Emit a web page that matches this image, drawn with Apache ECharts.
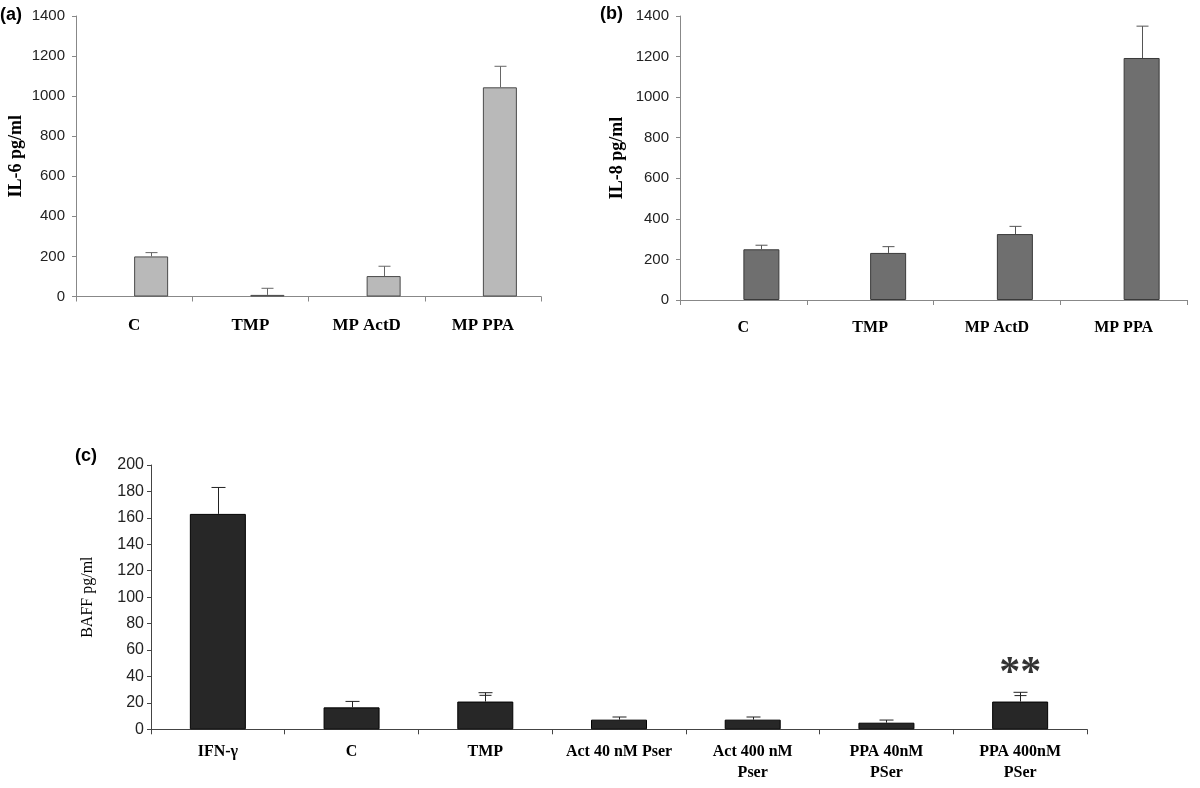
<!DOCTYPE html>
<html>
<head>
<meta charset="utf-8">
<script src="https://cdn.jsdelivr.net/npm/echarts@6/dist/echarts.min.js"></script>
<style>html,body{margin:0;padding:0;background:#fff}#chart{width:1200px;height:788px}</style>
</head>
<body>
<div id="chart"></div>
<script>
// ---- data ----
const catsAB = ['C', 'TMP', 'MP ActD', 'MP PPA'];
const il6 = [200, 8, 102, 1044];
const il6Err = [19, 33, 49, 105];
const il8 = [250, 232, 325, 1193];
const il8Err = [20, 31, 38, 157];
const catsC = ['IFN-γ', 'C', 'TMP', 'Act 40 nM Pser', 'Act 400 nM\nPser', 'PPA 40nM\nPSer', 'PPA 400nM\nPSer'];
const baff = [163, 16.6, 21, 7.3, 7.3, 5, 21];
const baffErr = [20, 4.5, 6.7, 2, 2, 2, 7];
const baffErrInner = [null, null, 4.7, null, null, null, 4.5];
const yMaxAB = 1400, yStepAB = 200;
const yMaxC = 200, yStepC = 20;
const sigIndex = 6, sigLabel = '**', sigValue = 42;

// ---- helpers ----
function errData(vals, errs, inner) {
  return vals.map((v, i) => [i, v, v + errs[i], inner && inner[i] != null ? v + inner[i] : NaN]);
}
function errRender(offset, cap, color) {
  return function (params, api) {
    const i = api.value(0), v = api.value(1), t = api.value(2), t2 = api.value(3);
    const p0 = api.coord([i, v]), p1 = api.coord([i, t]);
    const x = Math.round(p0[0] + offset) + 0.5;
    const ch = [
      {type: 'line', shape: {x1: x, y1: p0[1], x2: x, y2: p1[1]}, style: {stroke: color, lineWidth: 1}},
      {type: 'line', shape: {x1: x - cap, y1: p1[1], x2: x + cap, y2: p1[1]}, style: {stroke: color, lineWidth: 1}}
    ];
    if (!isNaN(t2)) {
      const p2 = api.coord([i, t2]);
      ch.push({type: 'line', shape: {x1: x - cap + 1, y1: p2[1], x2: x + cap - 1, y2: p2[1]}, style: {stroke: color, lineWidth: 1}});
    }
    return {type: 'group', children: ch};
  };
}
const sans = 'Liberation Sans';
const serif = 'Liberation Serif';
function xAxis(idx, cats, color, fs, margin) {
  return {
    type: 'category', gridIndex: idx, data: cats,
    axisLine: {lineStyle: {color: color, width: 1}},
    axisTick: {show: true, length: 5, lineStyle: {color: color}},
    axisLabel: {color: '#000', fontFamily: serif, fontWeight: 'bold', fontSize: fs, margin: margin, lineHeight: 21, interval: 0}
  };
}
function yAxis(idx, max, step, name, color, nameGap, nameBold, nameSize, labelSize, labelMargin) {
  return {
    type: 'value', gridIndex: idx, min: 0, max: max, interval: step,
    name: name, nameLocation: 'middle', nameGap: nameGap, nameRotate: 90,
    nameTextStyle: {color: '#000', fontFamily: serif, fontWeight: nameBold ? 'bold' : 'normal', fontSize: nameSize},
    axisLine: {show: true, lineStyle: {color: color, width: 1}},
    axisTick: {show: true, length: 4, lineStyle: {color: color}},
    splitLine: {show: false},
    axisLabel: {color: '#222', fontFamily: sans, fontSize: labelSize, margin: labelMargin, formatter: v => String(v)}
  };
}

const chart = echarts.init(document.getElementById('chart'), null, {renderer: 'canvas'});
chart.setOption({
  animation: false,
  backgroundColor: '#fff',
  grid: [
    {left: 76, top: 16, width: 465, height: 280.5},
    {left: 680, top: 16, width: 507, height: 284},
    {left: 151, top: 465, width: 936, height: 264.3}
  ],
  xAxis: [
    xAxis(0, catsAB, '#888', 17, 19),
    xAxis(1, catsAB, '#888', 16, 17),
    xAxis(2, catsC, '#444', 16, 12)
  ],
  yAxis: [
    yAxis(0, yMaxAB, yStepAB, 'IL-6 pg/ml', '#888', 51, true, 18, 15, 11),
    yAxis(1, yMaxAB, yStepAB, 'IL-8 pg/ml', '#888', 54, true, 18, 15, 11),
    yAxis(2, yMaxC, yStepC, 'BAFF pg/ml', '#444', 55, false, 16, 16, 7)
  ],
  graphic: [
    {type: 'text', left: 0, top: 6, style: {text: '(a)', font: 'bold 18px "Liberation Sans"', fill: '#000'}},
    {type: 'text', left: 600, top: 5, style: {text: '(b)', font: 'bold 18px "Liberation Sans"', fill: '#000'}},
    {type: 'text', left: 75, top: 447, style: {text: '(c)', font: 'bold 18px "Liberation Sans"', fill: '#000'}}
  ],
  series: [
    {type: 'bar', xAxisIndex: 0, yAxisIndex: 0, data: catsAB.map(() => '-'), barWidth: 34, barGap: 0},
    {type: 'bar', xAxisIndex: 0, yAxisIndex: 0, data: il6, barWidth: 34, barGap: 0,
      itemStyle: {color: '#b9b9b9', borderColor: '#4a4a4a', borderWidth: 1}},
    {type: 'custom', xAxisIndex: 0, yAxisIndex: 0, data: errData(il6, il6Err), encode: {x: 0, y: [1, 2]},
      renderItem: errRender(17, 6, '#666'), z: 3},
    {type: 'bar', xAxisIndex: 1, yAxisIndex: 1, data: catsAB.map(() => '-'), barWidth: 36, barGap: 0},
    {type: 'bar', xAxisIndex: 1, yAxisIndex: 1, data: il8, barWidth: 36, barGap: 0,
      itemStyle: {color: '#6f6f6f', borderColor: '#3a3a3a', borderWidth: 1}},
    {type: 'custom', xAxisIndex: 1, yAxisIndex: 1, data: errData(il8, il8Err), encode: {x: 0, y: [1, 2]},
      renderItem: errRender(18, 6, '#555'), z: 3},
    {type: 'bar', xAxisIndex: 2, yAxisIndex: 2, data: baff, barWidth: 56,
      itemStyle: {color: '#272727', borderColor: '#000', borderWidth: 1}},
    {type: 'custom', xAxisIndex: 2, yAxisIndex: 2, data: errData(baff, baffErr, baffErrInner), encode: {x: 0, y: [1, 2]},
      renderItem: errRender(0, 7, '#222'), z: 3},
    {type: 'scatter', xAxisIndex: 2, yAxisIndex: 2, data: [[sigIndex, sigValue]], symbolSize: 1,
      itemStyle: {color: 'rgba(0,0,0,0)'},
      label: {show: true, position: 'inside', formatter: sigLabel, color: '#000', fontFamily: serif, fontWeight: 'bold', fontSize: 42}}
  ]
});
</script>
</body>
</html>
